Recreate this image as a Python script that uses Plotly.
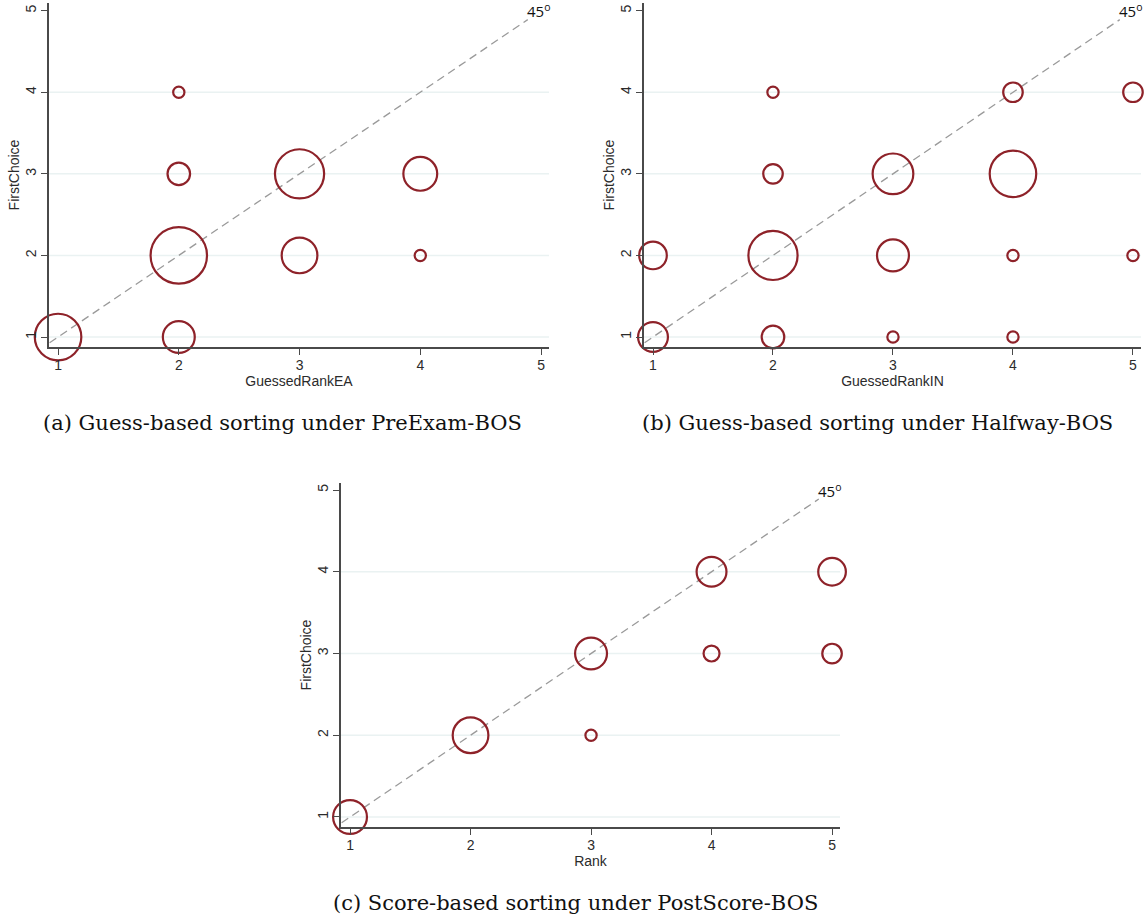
import plotly.graph_objects as go

# Panel (a): guessed rank (EA) vs first choice, bubble area = number of students
a_rank = [1, 2, 2, 3, 4, 2, 3, 4, 2]
a_choice = [1, 1, 2, 2, 2, 3, 3, 3, 4]
a_count = [17, 8, 25, 10, 1, 4, 19, 9, 1]

# Panel (b): guessed rank (IN) vs first choice
b_rank = [1, 2, 3, 4, 1, 2, 3, 4, 5, 2, 3, 4, 2, 4, 5]
b_choice = [1, 1, 1, 1, 2, 2, 2, 2, 2, 3, 3, 3, 4, 4, 4]
b_count = [7, 4, 1, 1, 6, 19, 8, 1, 1, 3, 13, 17, 1, 3, 3]

# Panel (c): actual rank vs first choice
c_rank = [1, 2, 3, 3, 4, 5, 4, 5]
c_choice = [1, 2, 2, 3, 3, 3, 4, 4]
c_count = [9, 10, 1, 8, 2, 3, 7, 6]

tick_vals = [1, 2, 3, 4, 5]
grid_vals = [1, 2, 3, 4]
diag_ends = [0.93, 4.89]

x_titles = ["GuessedRankEA", "GuessedRankIN", "Rank"]
y_title = "FirstChoice"
captions = [
    "(a) Guess-based sorting under PreExam-BOS",
    "(b) Guess-based sorting under Halfway-BOS",
    "(c) Score-based sorting under PostScore-BOS",
]
diag_label = "45<sup>o</sup>"

W, H = 1146, 919
MAROON = "#8e2229"
AXIS = "#4a4a4a"
TEXT = "#2b2b2b"
GRID = "#eaf2f2"

# pixel boxes of the three plot areas: (left, right, top, bottom)
boxes = [(49, 549, 3, 347), (644, 1141, 3, 347), (341, 840, 483, 827)]
x_ranges = [[0.925, 5.066], [0.925, 5.067], [0.925, 5.066]]
y_ranges = [[0.8775, 5.094], [0.8775, 5.094], [0.8776, 5.086]]

panels = [
    (a_rank, a_choice, a_count),
    (b_rank, b_choice, b_count),
    (c_rank, c_choice, c_count),
]

fig = go.Figure()
layout = dict(
    width=W, height=H,
    margin=dict(l=0, r=0, t=0, b=0),
    paper_bgcolor="white", plot_bgcolor="white",
    showlegend=False,
    shapes=[], annotations=[],
)

for i, ((xs, ys, ns), (l, r, t, b)) in enumerate(zip(panels, boxes)):
    sfx = "" if i == 0 else str(i + 1)
    xa, ya = "x" + sfx, "y" + sfx

    # 45-degree reference line
    fig.add_trace(go.Scatter(
        x=diag_ends, y=diag_ends, mode="lines",
        line=dict(color="#9a9a9a", width=1.3, dash="8px,5px"),
        xaxis=xa, yaxis=ya, hoverinfo="skip",
    ))
    # hollow bubbles, area proportional to count
    fig.add_trace(go.Scatter(
        x=xs, y=ys, mode="markers",
        marker=dict(
            size=ns, sizemode="area", sizeref=0.0157,
            symbol="circle", opacity=1,
            color="rgba(255,255,255,0)",
            line=dict(color=MAROON, width=2.2),
        ),
        cliponaxis=False,
        xaxis=xa, yaxis=ya,
    ))

    axis_font = dict(family="Liberation Sans, Arial, sans-serif", size=14, color=TEXT)
    layout["xaxis" + sfx] = dict(
        domain=[l / W, r / W], range=x_ranges[i], anchor=ya,
        tickvals=tick_vals, ticks="outside", ticklen=6, tickwidth=1.2,
        tickcolor=AXIS, showline=True, linecolor=AXIS, linewidth=1.6,
        showgrid=False, zeroline=False, tickfont=axis_font,
        ticklabelstandoff=-2,
        title=dict(text=x_titles[i], font=axis_font, standoff=1),
    )
    layout["yaxis" + sfx] = dict(
        domain=[1 - b / H, 1 - t / H], range=y_ranges[i], anchor=xa,
        tickvals=tick_vals, ticks="outside", ticklen=6, tickwidth=1.2,
        tickcolor=AXIS, showline=True, linecolor=AXIS, linewidth=1.6,
        showgrid=False, zeroline=False, tickfont=axis_font, tickangle=-90,
        title=dict(text=y_title, font=axis_font, standoff=0),
    )

    for g in grid_vals:
        layout["shapes"].append(dict(
            type="line", xref=xa + " domain", yref=ya,
            x0=0, x1=1, y0=g, y1=g,
            line=dict(color=GRID, width=1.5), layer="below",
        ))

    layout["annotations"].append(dict(
        x=4.98, y=5.0, xref=xa, yref=ya, text=diag_label,
        showarrow=False, xanchor="center", yanchor="middle",
        font=dict(family="Open Sans, Liberation Sans, sans-serif", size=15, color="#111"),
    ))

# panel captions
caption_pos = [(282, 423), (877, 423), (575, 903)]
for text, (cx, cy) in zip(captions, caption_pos):
    layout["annotations"].append(dict(
        x=cx / W, y=1 - cy / H, xref="paper", yref="paper", text=text,
        showarrow=False, xanchor="center", yanchor="middle",
        font=dict(family="DejaVu Serif, serif", size=21, color="#111"),
    ))

fig.update_layout(**layout)
fig.write_html("out.html")
